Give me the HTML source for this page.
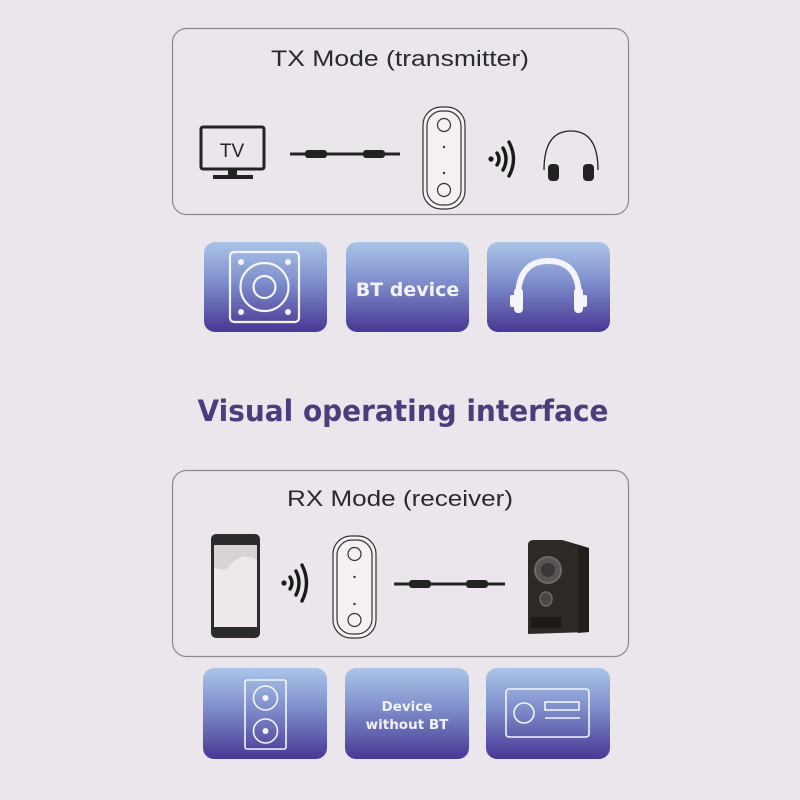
<!DOCTYPE html>
<html><head><meta charset="utf-8"><style>
html,body{margin:0;padding:0;background:#ebe5ec;}
svg{display:block;}
</style></head><body>
<svg width="800" height="800" viewBox="0 0 800 800" xmlns="http://www.w3.org/2000/svg">
<defs>
<linearGradient id="g" x1="0" y1="0" x2="0" y2="1">
<stop offset="0" stop-color="#aac5e8"/>
<stop offset="0.45" stop-color="#7e8dcb"/>
<stop offset="1" stop-color="#483794"/>
</linearGradient>
</defs>
<rect width="800" height="800" fill="#ebe5ec"/>
<!-- TX box -->
<rect x="172.5" y="28.5" width="456" height="186" rx="14" fill="none" stroke="#8d8890" stroke-width="1.2"/>
<text x="400" y="66" text-anchor="middle" font-family="Liberation Sans, sans-serif" font-size="22" fill="#2a2a2e" textLength="258" lengthAdjust="spacingAndGlyphs">TX  Mode (transmitter)</text>
<!-- TV -->
<rect x="201" y="127" width="63" height="42" rx="2" fill="none" stroke="#222" stroke-width="3"/>
<text x="232" y="157" text-anchor="middle" font-family="Liberation Sans, sans-serif" font-size="19" fill="#222">TV</text>
<rect x="228" y="170" width="9" height="6" fill="#222"/>
<rect x="213" y="175" width="40" height="4" fill="#222"/>
<!-- cable TX -->
<g fill="#222">
<rect x="290" y="152.5" width="110" height="3"/>
<rect x="305" y="150" width="22" height="8" rx="3"/>
<rect x="363" y="150" width="22" height="8" rx="3"/>
</g>
<!-- device TX -->
<rect x="423" y="107" width="42" height="102" rx="18" fill="#f4f0f4" stroke="#333" stroke-width="1.2"/>
<rect x="427" y="111" width="34" height="94" rx="15" fill="none" stroke="#333" stroke-width="1.2"/>
<circle cx="444" cy="125" r="6.5" fill="none" stroke="#333" stroke-width="1.2"/>
<circle cx="444" cy="190" r="6.5" fill="none" stroke="#333" stroke-width="1.2"/>
<circle cx="444" cy="147" r="1.2" fill="#333"/>
<circle cx="444" cy="173" r="1.2" fill="#333"/>
<!-- wifi TX -->
<g fill="none" stroke="#1a1a1a" stroke-width="3.4" stroke-linecap="round">
<circle cx="491" cy="159" r="2.6" fill="#1a1a1a" stroke="none"/>
<path d="M497 153 Q501 159 497 165"/>
<path d="M503 148 Q509 159 503 170"/>
<path d="M509 142 Q518 159 509 176"/>
</g>
<!-- headphones -->
<path d="M544 170 Q544 131 571 131 Q598 131 598 170" fill="none" stroke="#222" stroke-width="1.3"/>
<rect x="548" y="164" width="11" height="17" rx="4" fill="#222"/>
<rect x="583" y="164" width="11" height="17" rx="4" fill="#222"/>
<!-- tiles top -->
<rect x="204" y="242" width="123" height="90" rx="11" fill="url(#g)"/>
<rect x="346" y="242" width="123" height="90" rx="11" fill="url(#g)"/>
<rect x="487" y="242" width="123" height="90" rx="11" fill="url(#g)"/>
<g fill="none" stroke="#f4f4fa" stroke-width="2.2">
<rect x="230" y="252" width="69" height="70" rx="4"/>
<circle cx="264.5" cy="287" r="24"/>
<circle cx="264.5" cy="287" r="11"/>
</g>
<g fill="#f4f4fa">
<circle cx="241" cy="262" r="3"/><circle cx="288" cy="262" r="3"/>
<circle cx="241" cy="312" r="3"/><circle cx="288" cy="312" r="3"/>
</g>
<text x="407.5" y="296" text-anchor="middle" font-family="DejaVu Sans, sans-serif" font-weight="bold" font-size="19" fill="#f2f2f8">BT device</text>
<path d="M518 298 Q518 261 548.5 261 Q579 261 579 298" fill="none" stroke="#f4f4fa" stroke-width="6"/>
<rect x="514" y="288" width="9" height="25" rx="4" fill="#f4f4fa"/>
<rect x="574" y="288" width="9" height="25" rx="4" fill="#f4f4fa"/>
<rect x="510" y="295" width="5" height="12" rx="2" fill="#f4f4fa"/>
<rect x="582" y="295" width="5" height="12" rx="2" fill="#f4f4fa"/>
<!-- heading -->
<text x="403" y="421" text-anchor="middle" font-family="DejaVu Sans, sans-serif" font-weight="bold" font-size="29" fill="#4b3c7c" textLength="411" lengthAdjust="spacingAndGlyphs">Visual operating interface</text>
<!-- RX box -->
<rect x="172.5" y="470.5" width="456" height="186" rx="14" fill="none" stroke="#8d8890" stroke-width="1.2"/>
<text x="400" y="506" text-anchor="middle" font-family="Liberation Sans, sans-serif" font-size="22" fill="#2a2a2e" textLength="226" lengthAdjust="spacingAndGlyphs">RX  Mode (receiver)</text>
<!-- phone -->
<rect x="211" y="534" width="49" height="104" rx="5" fill="#2b2b2d"/>
<rect x="214" y="545" width="43" height="82" fill="#ece8ec"/>
<path d="M214 545 L257 545 L257 560 Q240 550 226 570 L214 568 Z" fill="#d6d2d6"/>
<!-- wifi RX -->
<g fill="none" stroke="#1a1a1a" stroke-width="3.4" stroke-linecap="round">
<circle cx="284" cy="583" r="2.6" fill="#1a1a1a" stroke="none"/>
<path d="M290 577 Q294 583 290 589"/>
<path d="M296 571 Q302 583 296 595"/>
<path d="M302 565 Q311 583 302 601"/>
</g>
<!-- device RX -->
<rect x="333" y="536" width="43" height="102" rx="18" fill="#f4f0f4" stroke="#333" stroke-width="1.2"/>
<rect x="337" y="540" width="35" height="94" rx="15" fill="none" stroke="#333" stroke-width="1.2"/>
<circle cx="354.5" cy="554" r="6.5" fill="none" stroke="#333" stroke-width="1.2"/>
<circle cx="354.5" cy="620" r="6.5" fill="none" stroke="#333" stroke-width="1.2"/>
<circle cx="354.5" cy="577" r="1.2" fill="#333"/>
<circle cx="354.5" cy="604" r="1.2" fill="#333"/>
<!-- cable RX -->
<g fill="#222">
<rect x="394" y="582.5" width="111" height="3"/>
<rect x="409" y="580" width="22" height="8" rx="3"/>
<rect x="466" y="580" width="22" height="8" rx="3"/>
</g>
<!-- speaker -->
<path d="M528 545 Q528 540 534 540 L562 540 L589 548 L589 632 L528 634 Z" fill="#2e2926"/>
<path d="M562 540 L589 548 L589 632 L578 633 L578 546 Z" fill="#221e1b"/>
<circle cx="548" cy="570" r="13" fill="#555" stroke="#6e6a66" stroke-width="2"/>
<circle cx="548" cy="570" r="7" fill="#3a3634"/>
<ellipse cx="546" cy="599" rx="6" ry="7" fill="#4a4643" stroke="#6e6a66" stroke-width="1.5"/>
<rect x="531" y="617" width="30" height="11" fill="#1c1917"/>
<!-- tiles bottom -->
<rect x="203" y="668" width="124" height="91" rx="11" fill="url(#g)"/>
<rect x="345" y="668" width="124" height="91" rx="11" fill="url(#g)"/>
<rect x="486" y="668" width="124" height="91" rx="11" fill="url(#g)"/>
<g fill="none" stroke="#f4f4fa" stroke-width="1.6">
<rect x="245" y="680" width="41" height="69" rx="2"/>
<circle cx="265.5" cy="698" r="12"/>
<circle cx="265.5" cy="731" r="12"/>
<rect x="506" y="689" width="83" height="48" rx="3"/>
<circle cx="524" cy="713" r="10"/>
<rect x="545" y="702" width="34" height="8"/>
<line x1="545" y1="718" x2="580" y2="718"/>
</g>
<circle cx="265.5" cy="698" r="3" fill="#f4f4fa"/>
<circle cx="265.5" cy="731" r="3" fill="#f4f4fa"/>
<text x="407" y="711" text-anchor="middle" font-family="DejaVu Sans, sans-serif" font-weight="bold" font-size="13.5" fill="#f2f2f8">Device</text>
<text x="407" y="729" text-anchor="middle" font-family="DejaVu Sans, sans-serif" font-weight="bold" font-size="13.5" fill="#f2f2f8">without BT</text>
</svg>
</body></html>
